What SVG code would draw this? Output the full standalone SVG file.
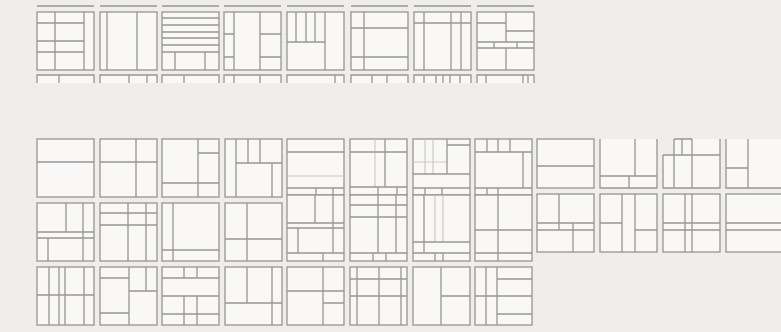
<svg xmlns="http://www.w3.org/2000/svg" width="781" height="332" viewBox="0 0 781 332">
<style>
.bg{fill:#efeeec}
.t{fill:#f9f8f6;stroke:#969696;stroke-width:1.3}
.l{fill:none;stroke:#969696;stroke-width:1.3}
.f{fill:none;stroke:#c8c8c6;stroke-width:1.1}
.p{fill:#f9f8f6;stroke:none}
</style>
<rect class="bg" x="0" y="0" width="781" height="332"/>

<!-- top strip: bottoms of a cut row -->
<g id="cutTop" class="l">
<path d="M37 6H94M100 6H157M162 6H219M224 6H281M287 6H344M351 6H408M414 6H471M477 6H534"/>
</g>

<!-- top row -->
<g id="T1" transform="translate(37,12)"><rect class="t" width="57" height="58"/><path class="l" d="M18 0V58M47 0V58M0 11H47M0 29H47M0 40H47"/></g>
<g id="T2" transform="translate(100,12)"><rect class="t" width="57" height="58"/><path class="l" d="M7 0V58M37 0V58"/></g>
<g id="T3" transform="translate(162,12)"><rect class="t" width="57" height="58"/><path class="l" d="M0 6H57M0 13H57M0 20H57M0 26H57M0 33H57M0 40H57M13 40V58M43 40V58"/></g>
<g id="T4" transform="translate(224,12)"><rect class="t" width="57" height="58"/><path class="l" d="M10 0V58M36 0V58M0 22H10M0 45H10M36 22H57M36 45H57"/></g>
<g id="T5" transform="translate(287,12)"><rect class="t" width="57" height="58"/><path class="l" d="M9 0V30M19 0V30M28 0V30M38 0V58M0 30H38"/></g>
<g id="T6" transform="translate(351,12)"><rect class="t" width="57" height="58"/><path class="l" d="M13 0V58M0 16H57M0 45H57"/></g>
<g id="T7" transform="translate(414,12)"><rect class="t" width="57" height="58"/><path class="l" d="M10 0V58M37 0V58M47 0V58M0 11H57"/></g>
<g id="T8" transform="translate(477,12)"><rect class="t" width="57" height="58"/><path class="l" d="M29 0V30M0 11H29M29 19H57M0 30H57M0 36H57M17 30V36M40 30V36M29 36V58"/></g>

<!-- partial row under top row -->
<g id="cutRow">
<rect class="p" x="37" y="75" width="57" height="8"/><rect class="p" x="100" y="75" width="57" height="8"/><rect class="p" x="162" y="75" width="57" height="8"/><rect class="p" x="224" y="75" width="57" height="8"/><rect class="p" x="287" y="75" width="57" height="8"/><rect class="p" x="351" y="75" width="57" height="8"/><rect class="p" x="414" y="75" width="57" height="8"/><rect class="p" x="477" y="75" width="57" height="8"/>
<path class="l" d="M37 83V75H94V83M59 75V83
M100 83V75H157V83M129 75V83M147 75V83
M162 83V75H219V83M184 75V83
M224 83V75H281V83M234 75V83M260 75V83
M287 83V75H344V83M335 75V83
M351 83V75H408V83M372 75V83M387 75V83
M414 83V75H471V83M424 75V83M436 75V83M443 75V83M450 75V83M460 75V83
M477 83V75H534V83M486 75V83M523 75V83M528 75V83"/>
</g>

<!-- lower block, row A -->
<g id="A1" transform="translate(37,139)"><rect class="t" width="57" height="58"/><path class="l" d="M0 23H57"/></g>
<g id="A2" transform="translate(100,139)"><rect class="t" width="57" height="58"/><path class="l" d="M36 0V58M0 23H57"/></g>
<g id="A3" transform="translate(162,139)"><rect class="t" width="57" height="58"/><path class="l" d="M36 0V58M36 14H57M0 44H57"/></g>
<g id="A4" transform="translate(225,139)"><rect class="t" width="57" height="58"/><path class="l" d="M11 0V58M23 0V24M35 0V24M11 24H57M47 24V58"/></g>
<g id="A5" transform="translate(287,139)"><rect class="t" width="57" height="56"/><path class="f" d="M0 37H57"/><path class="l" d="M0 13H57M0 49H57M29 49V56M46 49V56"/></g>
<g id="A6" transform="translate(350,139)"><rect class="t" width="57" height="56"/><path class="f" d="M25 0V48"/><path class="l" d="M35 0V48M0 13H57M0 48H57M28 48V56M47 48V56"/></g>
<g id="A7" transform="translate(413,139)"><rect class="t" width="57" height="56"/><path class="f" d="M12 0V35M20 0V35M0 23H34"/><path class="l" d="M34 0V35M34 6H57M0 35H57M0 49H57M12 49V56M29 49V56"/></g>
<g id="A8" transform="translate(475,139)"><rect class="t" width="57" height="56"/><path class="l" d="M12 0V13M23 0V13M35 0V13M0 13H57M48 13V49M0 49H57M12 49V56M23 49V56"/></g>
<g id="A9" transform="translate(537,139)"><rect class="t" width="57" height="49"/><path class="l" d="M0 27H57"/></g>
<g id="A10" transform="translate(600,139)"><rect class="p" width="57" height="49"/><path class="l" d="M0 0V49H57V0M35 0V37M0 37H57M29 37V49"/></g>
<g id="A11" transform="translate(663,139)"><rect class="p" x="0" y="16" width="57" height="33"/><rect class="p" x="11" y="0" width="46" height="16"/><path class="l" d="M11 0H29M0 16H57M0 16V49H57V0M11 0V49M29 0V49M19 0V16"/></g>
<g id="A12" transform="translate(726,139)"><rect class="p" width="55" height="49"/><path class="l" d="M0 0V49H55M22 0V49M0 29H22"/></g>

<!-- row B -->
<g id="B1" transform="translate(37,203)"><rect class="t" width="57" height="58"/><path class="l" d="M29 0V29M46 0V58M0 29H57M0 35H57M11 35V58"/></g>
<g id="B2" transform="translate(100,203)"><rect class="t" width="57" height="58"/><path class="l" d="M0 10H57M0 22H57M28 0V58M46 0V58"/></g>
<g id="B3" transform="translate(162,203)"><rect class="t" width="57" height="58"/><path class="l" d="M11 0V58M0 47H57"/></g>
<g id="B4" transform="translate(225,203)"><rect class="t" width="57" height="58"/><path class="l" d="M22 0V58M0 36H57"/></g>
<g id="B5" transform="translate(287,195)"><rect class="t" width="57" height="66"/><path class="l" d="M28 0V28M46 0V58M0 28H57M0 33H57M11 33V58M0 58H57M36 58V66"/></g>
<g id="B6" transform="translate(350,195)"><rect class="t" width="57" height="66"/><path class="l" d="M0 10H57M0 22H57M28 0V58M46 0V58M0 58H57M23 58V66M36 58V66"/></g>
<g id="B7" transform="translate(413,195)"><rect class="t" width="57" height="66"/><path class="f" d="M22 0V47M30 0V47"/><path class="l" d="M11 0V58M0 47H57M0 58H57M22 58V66M30 58V66"/></g>
<g id="B8" transform="translate(475,195)"><rect class="t" width="57" height="66"/><path class="l" d="M23 0V58M0 35H57M0 58H57M23 58V66"/></g>
<g id="B9" transform="translate(537,194)"><rect class="t" width="57" height="58"/><path class="l" d="M22 0V36M0 29H57M0 36H57M36 29V58"/></g>
<g id="B10" transform="translate(600,194)"><rect class="t" width="57" height="58"/><path class="l" d="M22 0V58M35 0V58M0 29H22M35 36H57"/></g>
<g id="B11" transform="translate(663,194)"><rect class="t" width="57" height="58"/><path class="l" d="M22 0V58M29 0V58M0 29H57M0 36H57"/></g>
<g id="B12" transform="translate(726,194)"><rect class="t" width="60" height="58"/><path class="l" d="M0 29H60M0 36H60"/></g>

<!-- row C -->
<g id="C1" transform="translate(37,267)"><rect class="t" width="57" height="58"/><path class="l" d="M12 0V58M22 0V58M28 0V58M47 0V58M0 28H57"/></g>
<g id="C2" transform="translate(100,267)"><rect class="t" width="57" height="58"/><path class="l" d="M29 0V58M46 0V24M0 11H29M29 24H57M0 46H29"/></g>
<g id="C3" transform="translate(162,267)"><rect class="t" width="57" height="58"/><path class="l" d="M0 11H57M22 0V11M35 0V11M0 29H57M22 29V58M35 29V58M0 47H57"/></g>
<g id="C4" transform="translate(225,267)"><rect class="t" width="57" height="58"/><path class="l" d="M22 0V36M47 0V58M0 36H57"/></g>
<g id="C5" transform="translate(287,267)"><rect class="t" width="57" height="58"/><path class="l" d="M36 0V58M0 24H57M36 36H57"/></g>
<g id="C6" transform="translate(350,267)"><rect class="t" width="57" height="58"/><path class="l" d="M7 0V58M29 0V58M51 0V58M0 12H57M0 29H57"/></g>
<g id="C7" transform="translate(413,267)"><rect class="t" width="57" height="58"/><path class="l" d="M28 0V58M28 29H57"/></g>
<g id="C8" transform="translate(475,267)"><rect class="t" width="57" height="58"/><path class="l" d="M11 0V58M22 0V58M22 12H57M0 29H57M22 47H57"/></g>
</svg>
